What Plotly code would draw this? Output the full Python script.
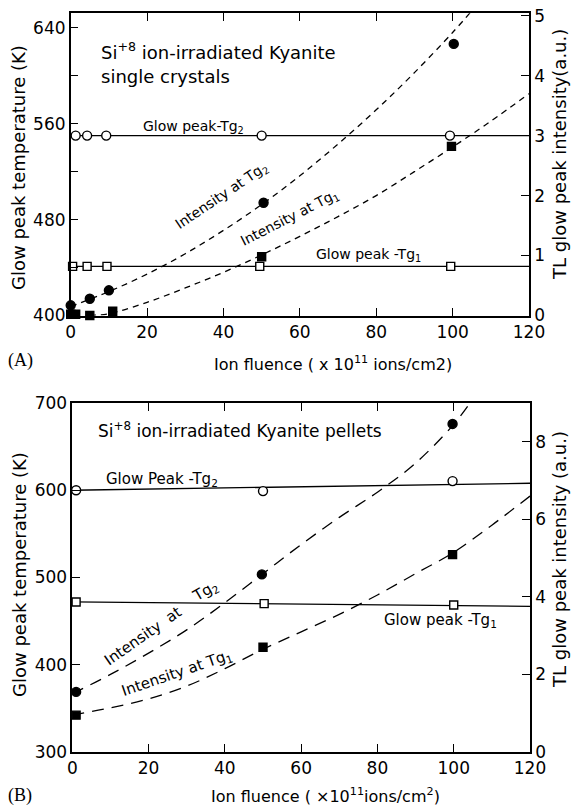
import plotly.graph_objects as go

# ---------------- data ----------------
# Panel A : single crystals
a_tg2_x = [1.3, 4.3, 9.3, 50, 99.3]
a_tg2_T = [550, 550, 550, 550, 550]
a_tg2_line_x = [0, 120]
a_tg2_line_T = [550, 550]

a_tg1_x = [0.5, 4.3, 9.5, 49.5, 99.5]
a_tg1_T = [441, 441, 441, 441, 441]
a_tg1_line_x = [0, 120]
a_tg1_line_T = [441, 441]

a_int2_x = [0, 5, 10, 50.5, 100.3]
a_int2_I = [0.17, 0.28, 0.42, 1.88, 4.53]
a_int1_x = [0, 1.3, 5, 11, 50, 99.7]
a_int1_I = [0.02, 0.02, 0.0, 0.07, 0.98, 2.82]

a_fit2_x = [0, 10, 20, 30, 40, 50, 60, 70, 80, 90, 100, 105]
a_fit2_I = [0.15, 0.40, 0.69, 1.03, 1.42, 1.85, 2.33, 2.86, 3.43, 4.05, 4.72, 5.08]
a_fit1_x = [5, 10, 20, 30, 40, 50, 60, 70, 80, 90, 100, 110, 120]
a_fit1_I = [0.0, 0.03, 0.22, 0.46, 0.72, 1.01, 1.32, 1.65, 2.0, 2.4, 2.81, 3.24, 3.7]

a_T_ticks = [400, 440, 480, 520, 560, 600, 640]
a_T_labels = ["400", "", "480", "", "560", "", "640"]

# Panel B : pellets
b_tg2_x = [1, 50, 99.7]
b_tg2_T = [600, 599, 610.5]
b_tg2_line_x = [0, 120]
b_tg2_line_T = [600, 608]

b_tg1_x = [1, 50.3, 100]
b_tg1_T = [472, 470, 468.5]
b_tg1_line_x = [0, 120]
b_tg1_line_T = [472, 467]

b_int2_x = [1, 49.7, 99.7]
b_int2_I = [1.55, 4.58, 8.46]
b_int1_x = [1, 50, 99.7]
b_int1_I = [0.95, 2.7, 5.09]

b_fit2_x = [0, 10, 20, 30, 40, 50, 60, 70, 80, 90, 100, 105]
b_fit2_I = [1.5, 2.0, 2.55, 3.15, 3.85, 4.6, 5.35, 6.05, 6.7, 7.45, 8.45, 9.1]
b_fit1_x = [0, 10, 20, 30, 40, 50, 60, 70, 80, 90, 100, 110, 120]
b_fit1_I = [0.95, 1.14, 1.37, 1.7, 2.15, 2.65, 3.1, 3.55, 4.05, 4.6, 5.15, 5.85, 6.6]

W, H = 573, 806
FONT = "DejaVu Sans"


def px(x):
    return x / W


def py(y):
    return 1 - y / H


fig = go.Figure()
blk = "black"


def line(x, y, xa, ya, dash="solid"):
    fig.add_trace(go.Scatter(x=x, y=y, xaxis=xa, yaxis=ya, mode="lines",
                             line=dict(color=blk, width=1.3, dash=dash, shape="spline"),
                             hoverinfo="skip", showlegend=False))


def marks(x, y, xa, ya, symbol, fill):
    fig.add_trace(go.Scatter(x=x, y=y, xaxis=xa, yaxis=ya, mode="markers",
                             marker=dict(symbol=symbol, size=9 if symbol == "circle" else 8,
                                         color=fill, line=dict(color=blk, width=1.4)),
                             cliponaxis=False, showlegend=False))


# Panel A
line(a_tg2_line_x, a_tg2_line_T, "x", "y")
line(a_tg1_line_x, a_tg1_line_T, "x", "y")
line(a_fit2_x, a_fit2_I, "x", "y2", dash="6px,5px")
line(a_fit1_x, a_fit1_I, "x", "y2", dash="6px,5px")
marks(a_tg2_x, a_tg2_T, "x", "y", "circle", "white")
marks(a_tg1_x, a_tg1_T, "x", "y", "square", "white")
marks(a_int2_x, a_int2_I, "x", "y2", "circle", blk)
marks(a_int1_x, a_int1_I, "x", "y2", "square", blk)

# Panel B
line(b_tg2_line_x, b_tg2_line_T, "x2", "y3")
line(b_tg1_line_x, b_tg1_line_T, "x2", "y3")
line(b_fit2_x, b_fit2_I, "x2", "y4", dash="12px,8px")
line(b_fit1_x, b_fit1_I, "x2", "y4", dash="12px,8px")
marks(b_tg2_x, b_tg2_T, "x2", "y3", "circle", "white")
marks(b_tg1_x, b_tg1_T, "x2", "y3", "square", "white")
marks(b_int2_x, b_int2_I, "x2", "y4", "circle", blk)
marks(b_int1_x, b_int1_I, "x2", "y4", "square", blk)

ax_common = dict(showline=True, linecolor=blk, linewidth=1.5, ticks="inside", ticklen=8,
                 tickcolor=blk, tickwidth=1.3, showgrid=False, zeroline=False,
                 automargin=False,
                 tickfont=dict(family=FONT, size=17, color=blk))

fig.update_layout(
    width=W, height=H, margin=dict(l=0, r=0, t=0, b=0, pad=0),
    paper_bgcolor="white", plot_bgcolor="white",
    font=dict(family=FONT, color=blk),
    xaxis=dict(domain=[px(70.7), px(529)], range=[0, 120], dtick=20, anchor="y",
               mirror="ticks", **ax_common),
    yaxis=dict(domain=[py(315.5), py(13.3)], range=[400, 652], tickmode="array",
               tickvals=a_T_ticks, ticktext=a_T_labels, anchor="x", **ax_common),
    yaxis2=dict(domain=[py(315.5), py(13.3)], range=[0, 5.04], dtick=1, overlaying="y",
                side="right", anchor="x", **ax_common),
    xaxis2=dict(domain=[px(72.3), px(530)], range=[0, 120], dtick=20, anchor="y3",
                mirror="ticks", **ax_common),
    yaxis3=dict(domain=[py(752), py(403)], range=[300, 700], dtick=100, anchor="x2",
                **ax_common),
    yaxis4=dict(domain=[py(752), py(403)], range=[0, 9], dtick=2, overlaying="y3",
                side="right", anchor="x2", **ax_common),
)


def note(text, x, y, size=16, angle=0, xanchor="center", family=FONT):
    fig.add_annotation(text=text, x=px(x), y=py(y), xref="paper", yref="paper",
                       showarrow=False, textangle=angle, xanchor=xanchor, yanchor="middle",
                       font=dict(family=family, size=size, color=blk))


# Panel A texts
note("Si<sup>+8</sup> ion-irradiated Kyanite", 99, 51, size=18, xanchor="left")
note("single crystals", 99, 77, size=18, xanchor="left")
note("Glow peak-Tg<sub>2</sub>", 193, 127, size=14)
note("Glow peak -Tg<sub>1</sub>", 368, 255, size=14)
note("Intensity at Tg<sub>2</sub>", 222, 196, size=14, angle=-34)
note("Intensity at Tg<sub>1</sub>", 290, 218, size=14, angle=-27)
note("Glow peak temperature (K)", 19, 168, size=18, angle=-90)
note("TL glow peak intensity(a.u.)", 559, 155, size=18, angle=-90)
note("Ion fluence ( x 10<sup>11</sup> ions/cm2)", 333, 363, size=16)
note("(A)", 6, 360, size=18, xanchor="left", family="Liberation Serif")

# Panel B texts
note("Si<sup>+8</sup> ion-irradiated Kyanite pellets", 96, 430, size=17, xanchor="left")
note("Glow Peak -Tg<sub>2</sub>", 162, 480, size=15)
note("Glow peak -Tg<sub>1</sub>", 440, 620, size=15)
note("Intensity  at", 143, 636, size=15, angle=-35)
note("Tg<sub>2</sub>", 205, 591, size=15, angle=-30)
note("Intensity at Tg<sub>1</sub>", 176, 673, size=15, angle=-19)
note("Glow peak temperature (K)", 19, 575, size=18, angle=-90)
note("TL glow peak intensity (a.u.)", 559, 560, size=18, angle=-90)
note("Ion fluence ( \u00d710<sup>11</sup>ions/cm<sup>2</sup>)", 325, 795, size=16)
note("(B)", 6, 795, size=18, xanchor="left", family="Liberation Serif")

fig.write_html("out.html", config={"displayModeBar": False},
               post_script="document.body.style.margin='0';document.body.style.overflow='hidden';")
